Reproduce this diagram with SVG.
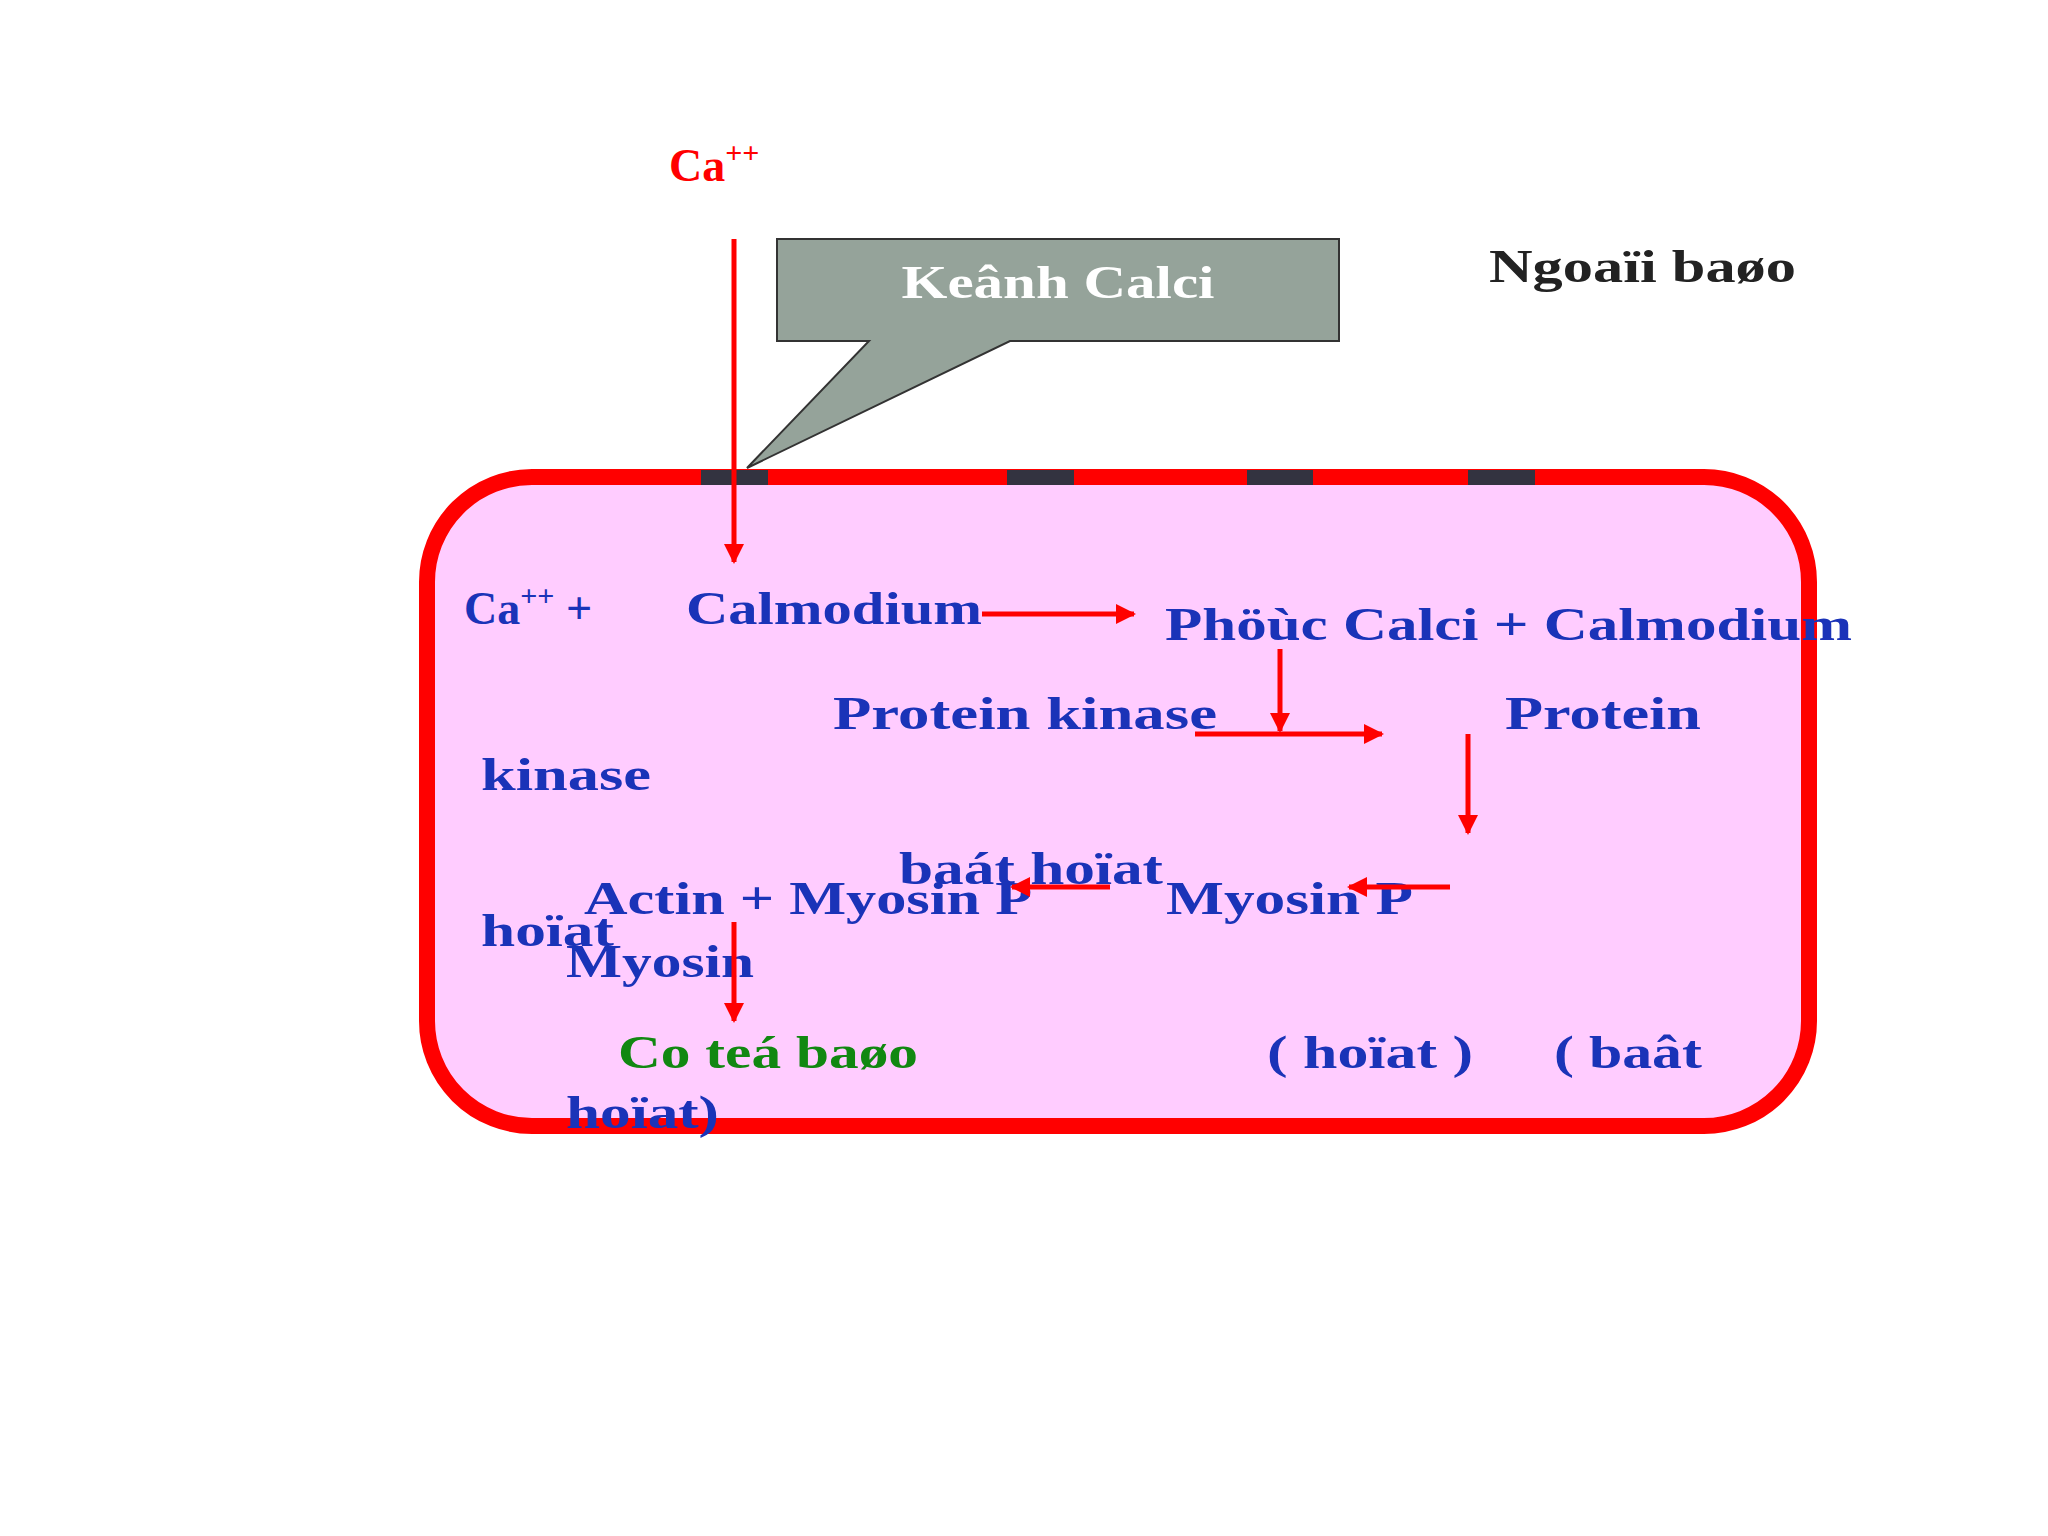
<svg xmlns="http://www.w3.org/2000/svg" width="2048" height="1536" viewBox="0 0 2048 1536">
<defs>
<marker id="ah" viewBox="0 0 10 10" refX="9" refY="5" markerWidth="4" markerHeight="4" orient="auto" markerUnits="strokeWidth"><path d="M0,0 L10,5 L0,10 z" fill="#FF0000"/></marker>
<style>
.t{font-family:"Liberation Serif",serif;font-weight:bold;font-size:46px;fill:#1A33B8}
.a{stroke:#FF0000;stroke-width:5;fill:none;marker-end:url(#ah)}
</style>
</defs>
<rect width="2048" height="1536" fill="#fff"/>
<g id="cell">
<rect x="427" y="477" width="1382" height="649" rx="105" fill="#FFCCFF" stroke="#FF0000" stroke-width="16"/>
<g fill="#333340"><rect x="701" y="470" width="67" height="15"/><rect x="1007" y="470" width="67" height="15"/><rect x="1247" y="470" width="66" height="15"/><rect x="1468" y="470" width="67" height="15"/></g>
</g>
<g id="callout">
<path d="M777,239 H1339 V341 H1010 L747,468 L869,341 H777 Z" fill="#95A39A" stroke="#333" stroke-width="2"/>
<text x="1058" y="298" text-anchor="middle" font-family="Liberation Serif,serif" font-weight="bold" font-size="46" fill="#fff" textLength="313" lengthAdjust="spacingAndGlyphs">Keânh Calci</text>
</g>
<g id="labels">
<text x="669" y="181" font-family="Liberation Serif,serif" font-weight="bold" font-size="46" fill="#FF0000">Ca<tspan dy="-18" font-size="30">++</tspan></text>
<text x="1489" y="282" font-family="Liberation Serif,serif" font-weight="bold" font-size="46" fill="#222" textLength="307" lengthAdjust="spacingAndGlyphs">Ngoaïi baøo</text>
<text class="t" x="464" y="624">Ca<tspan dy="-18" font-size="30">++</tspan><tspan dy="18"> +</tspan></text>
<text class="t" x="686" y="624" textLength="296" lengthAdjust="spacingAndGlyphs">Calmodium</text>
<text class="t" x="1165" y="640" textLength="687" lengthAdjust="spacingAndGlyphs">Phöùc Calci +  Calmodium</text>
<text class="t" x="833" y="729" textLength="384" lengthAdjust="spacingAndGlyphs">Protein kinase</text>
<text class="t" x="1505" y="729" textLength="196" lengthAdjust="spacingAndGlyphs">Protein</text>
<text class="t" x="481" y="790" textLength="170" lengthAdjust="spacingAndGlyphs">kinase</text>
<text class="t" x="899" y="884" textLength="264" lengthAdjust="spacingAndGlyphs">baát hoïat</text>
<text class="t" x="584" y="914" textLength="448" lengthAdjust="spacingAndGlyphs">Actin + Myosin P</text>
<text class="t" x="1166" y="914" textLength="247" lengthAdjust="spacingAndGlyphs">Myosin P</text>
<text class="t" x="481" y="946" textLength="133" lengthAdjust="spacingAndGlyphs">hoïat</text>
<text class="t" x="566" y="977" textLength="188" lengthAdjust="spacingAndGlyphs">Myosin</text>
<text class="t" x="618" y="1068" fill="#118811" style="fill:#118811" textLength="300" lengthAdjust="spacingAndGlyphs">Co teá baøo</text>
<text class="t" x="1267" y="1068" textLength="206" lengthAdjust="spacingAndGlyphs">( hoïat )</text>
<text class="t" x="1554" y="1068" textLength="148" lengthAdjust="spacingAndGlyphs">( baât</text>
<text class="t" x="566" y="1128" textLength="153" lengthAdjust="spacingAndGlyphs">hoïat)</text>
</g>
<g id="connectors">
<line class="a" x1="734" y1="239" x2="734" y2="562"/>
<line class="a" x1="982" y1="614" x2="1134" y2="614"/>
<line class="a" x1="1280" y1="649" x2="1280" y2="731"/>
<line class="a" x1="1195" y1="734" x2="1382" y2="734"/>
<line class="a" x1="1468" y1="734" x2="1468" y2="833"/>
<line class="a" x1="1110" y1="887" x2="1012" y2="887"/>
<line class="a" x1="1450" y1="887" x2="1349" y2="887"/>
<line class="a" x1="734" y1="922" x2="734" y2="1021"/>
</g>
</svg>
